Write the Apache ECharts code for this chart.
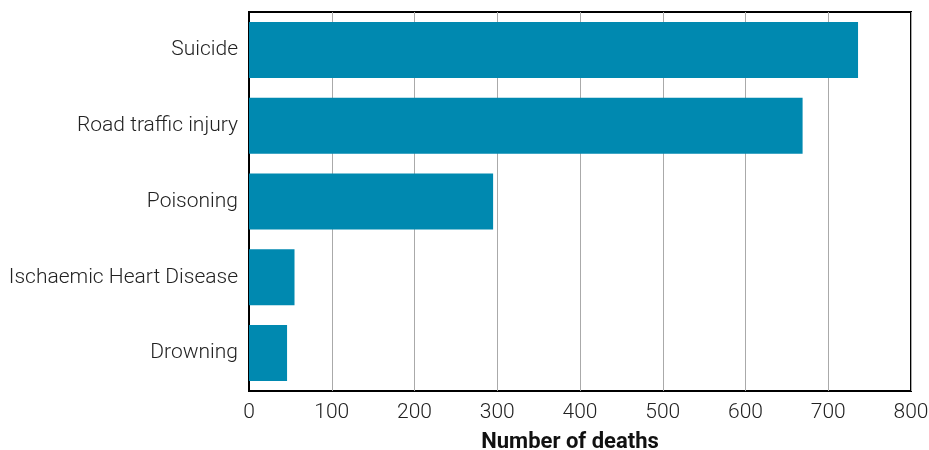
<!DOCTYPE html>
<html>
<head>
<meta charset="utf-8">
<script src="https://cdn.jsdelivr.net/npm/echarts@6/dist/echarts.min.js"></script>
<style>html,body{margin:0;padding:0;background:#fff;}#c{width:929px;height:450px;}</style>
</head>
<body>
<div id="c"></div>
<script>
const categories = ["Suicide", "Road traffic injury", "Poisoning", "Ischaemic Heart Disease", "Drowning"];
const deaths = [736, 669, 295, 55, 46];
const xTicks = [0, 100, 200, 300, 400, 500, 600, 700, 800];
const xTitle = "Number of deaths";

const chart = echarts.init(document.getElementById('c'), null, {renderer: 'canvas'});
chart.setOption({
  animation: false,
  textStyle: {fontFamily: 'Roboto'},
  grid: {left: 249, right: 18, top: 12, bottom: 59, show: true, borderColor: '#000', borderWidth: 2, backgroundColor: 'transparent', outerBoundsMode: 'none', containLabel: false},
  xAxis: {
    type: 'value', min: xTicks[0], max: xTicks[xTicks.length - 1], interval: 100,
    name: xTitle, nameLocation: 'middle', nameGap: 40,
    nameTextStyle: {fontFamily: 'Roboto', fontWeight: 'bold', fontSize: 22, color: '#111', padding: [0, 20, 0, 0]},
    axisLine: {show: false}, axisTick: {show: false},
    axisLabel: {fontFamily: 'Roboto', fontSize: 21, color: '#222', margin: 11, fontWeight: 300},
    splitLine: {show: true, lineStyle: {color: '#aaa', width: 1}}
  },
  yAxis: {
    type: 'category', data: categories, inverse: true,
    axisLine: {show: true, lineStyle: {color: '#000', width: 2}}, axisTick: {show: false},
    axisLabel: {fontFamily: 'Roboto', fontSize: 21, color: '#222', margin: 11, fontWeight: 300},
    splitLine: {show: false}
  },
  series: [{
    type: 'bar', data: deaths, barWidth: 56,
    itemStyle: {color: '#0089B0'}
  }]
});
</script>
</body>
</html>
